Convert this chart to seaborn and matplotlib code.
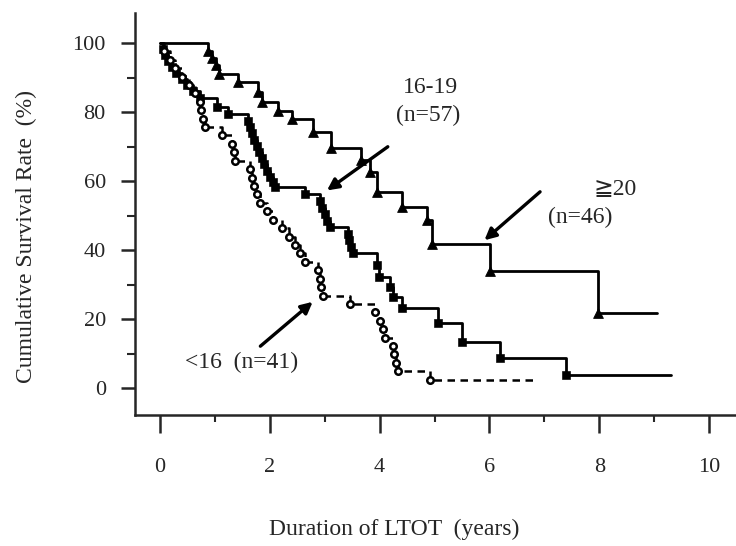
import numpy as np
import pandas as pd
import matplotlib
matplotlib.use('Agg')
import matplotlib.pyplot as plt
import seaborn as sns

# step times (years) and survival (%)
t_ge20 = [0, 0.88, 0.95, 1.02, 1.08, 1.42, 1.78, 1.86, 2.15, 2.40, 2.79, 3.12,
          3.66, 3.83, 3.95, 4.40, 4.86, 4.95, 6.01, 7.98]
s_ge20 = [100, 97.8, 95.7, 93.5, 91.0, 88.7, 85.8, 82.9, 80.3, 78.0, 74.3, 69.5,
          66.1, 62.6, 56.8, 52.5, 48.7, 41.7, 33.9, 21.7]
end_ge20 = 9.05

t_1619 = [0, 0.05, 0.10, 0.15, 0.22, 0.30, 0.40, 0.50, 0.60, 0.72, 1.04, 1.24,
          1.60, 1.64, 1.68, 1.72, 1.76, 1.80, 1.85, 1.90, 1.95, 2.00, 2.05, 2.10,
          2.64, 2.91, 2.95, 3.00, 3.05, 3.10, 3.42, 3.45, 3.48, 3.51, 3.95, 3.98,
          4.19, 4.24, 4.41, 5.06, 5.50, 6.19, 7.40]
s_1619 = [100, 98.2, 96.5, 94.7, 93.0, 91.2, 89.5, 87.7, 86.0, 84.2, 81.4, 79.5,
          77.4, 75.6, 73.8, 72.0, 70.2, 68.4, 66.6, 64.8, 63.0, 61.2, 59.8, 58.3,
          56.2, 54.2, 52.3, 50.4, 48.5, 46.7, 44.7, 42.8, 40.9, 39.1, 35.6, 32.2,
          29.3, 26.4, 23.2, 18.8, 13.3, 8.7, 3.8]
end_1619 = 9.3

t_lt16 = [0, 0.08, 0.18, 0.28, 0.40, 0.52, 0.64, 0.72, 0.75, 0.78, 0.82, 1.13,
          1.31, 1.34, 1.37, 1.64, 1.68, 1.72, 1.77, 1.82, 1.95, 2.06, 2.22, 2.35,
          2.46, 2.55, 2.64, 2.88, 2.91, 2.94, 2.97, 3.46, 3.92, 4.00, 4.06, 4.10,
          4.24, 4.27, 4.30, 4.34, 4.92]
s_lt16 = [100, 97.6, 95.1, 92.7, 90.2, 87.8, 85.4, 82.9, 80.5, 78.0, 75.6, 73.2,
          70.7, 68.3, 65.9, 63.4, 61.0, 58.5, 56.1, 53.7, 51.2, 48.8, 46.3, 43.9,
          41.5, 39.0, 36.6, 34.1, 31.7, 29.3, 26.8, 24.4, 22.0, 19.5, 17.1, 14.6,
          12.2, 9.8, 7.3, 4.9, 2.4]
end_lt16 = 6.89

x_ticks = [0, 2, 4, 6, 8, 10]
y_ticks = [0, 20, 40, 60, 80, 100]

sns.set_theme(style='ticks')
plt.rcParams['font.family'] = ['Liberation Serif', 'DejaVu Sans', 'Noto Sans CJK JP']
plt.rcParams['axes.linewidth'] = 1.8

fig = plt.figure(figsize=(7.36, 5.46), dpi=100)
ax = fig.add_axes([0.1834, 0.2399, 0.8166, 0.7363])


def curve(t, s, end):
    df = pd.DataFrame({'t': t + [end], 's': s + [s[-1]]})
    return df


g20 = curve(t_ge20, s_ge20, end_ge20)
g16 = curve(t_1619, s_1619, end_1619)
glt = curve(t_lt16, s_lt16, end_lt16)

sns.lineplot(data=g20, x='t', y='s', drawstyle='steps-post', color='black',
             lw=2.0, ax=ax, estimator=None)
sns.lineplot(data=g16, x='t', y='s', drawstyle='steps-post', color='black',
             lw=2.0, ax=ax, estimator=None)
sns.lineplot(data=glt, x='t', y='s', drawstyle='steps-post', color='black',
             lw=1.8, ax=ax, estimator=None, linestyle=(0, (3, 2.2)))

# event marks
sns.scatterplot(x=t_ge20[1:], y=s_ge20[1:], marker='^', s=50, color='black',
                edgecolor='black', ax=ax, zorder=3)
sns.scatterplot(x=t_1619[1:], y=s_1619[1:], marker='s', s=30, color='black',
                edgecolor='black', ax=ax, zorder=3)
sns.scatterplot(x=t_lt16[1:], y=s_lt16[1:], marker='o', s=22, color='white',
                edgecolor='black', linewidth=1.8, ax=ax, zorder=3)

ax.set_xlim(-0.455, 10.49)
ax.set_ylim(-7.83, 108.7)
ax.set_xticks(x_ticks)
ax.set_xticks([1, 3, 5, 7, 9], minor=True)
ax.set_yticks(y_ticks)
ax.set_yticks([10, 30, 50, 70, 90], minor=True)
ax.tick_params(axis='x', which='major', length=13, width=1.8, pad=18, labelsize=16)
ax.tick_params(axis='x', which='minor', length=5, width=1.5)
ax.tick_params(axis='y', which='major', length=10, width=1.8, pad=11, labelsize=16)
ax.tick_params(axis='y', which='minor', length=6, width=1.5)
sns.despine(ax=ax)

ax.set_xlabel('Duration of LTOT  (years)', fontsize=17)
ax.set_ylabel('Cumulative Survival Rate  (%)', fontsize=17)
ax.xaxis.set_label_coords(0.432, -0.258)
ax.yaxis.set_label_coords(-0.163, 0.443)

arrow = dict(arrowstyle='-|>', color='black', lw=2.4, mutation_scale=17)
ax.annotate('', xy=(3.0, 56.8), xytext=(4.19, 70.4), arrowprops=arrow)
ax.annotate('', xy=(5.87, 42.3), xytext=(6.96, 57.4), arrowprops=arrow)
ax.annotate('', xy=(2.82, 25.5), xytext=(1.79, 11.6), arrowprops=arrow)

ax.text(4.92, 87.0, '16-19', fontsize=17, ha='center', va='center')
ax.text(4.88, 79.1, '(n=57)', fontsize=17, ha='center', va='center')
ax.text(8.29, 57.4, '\u226720', fontsize=17, ha='center', va='center')
ax.text(7.65, 49.3, '(n=46)', fontsize=17, ha='center', va='center')
ax.text(1.48, 7.5, '<16  (n=41)', fontsize=17, ha='center', va='center')

fig.savefig('out.png', dpi=100)
